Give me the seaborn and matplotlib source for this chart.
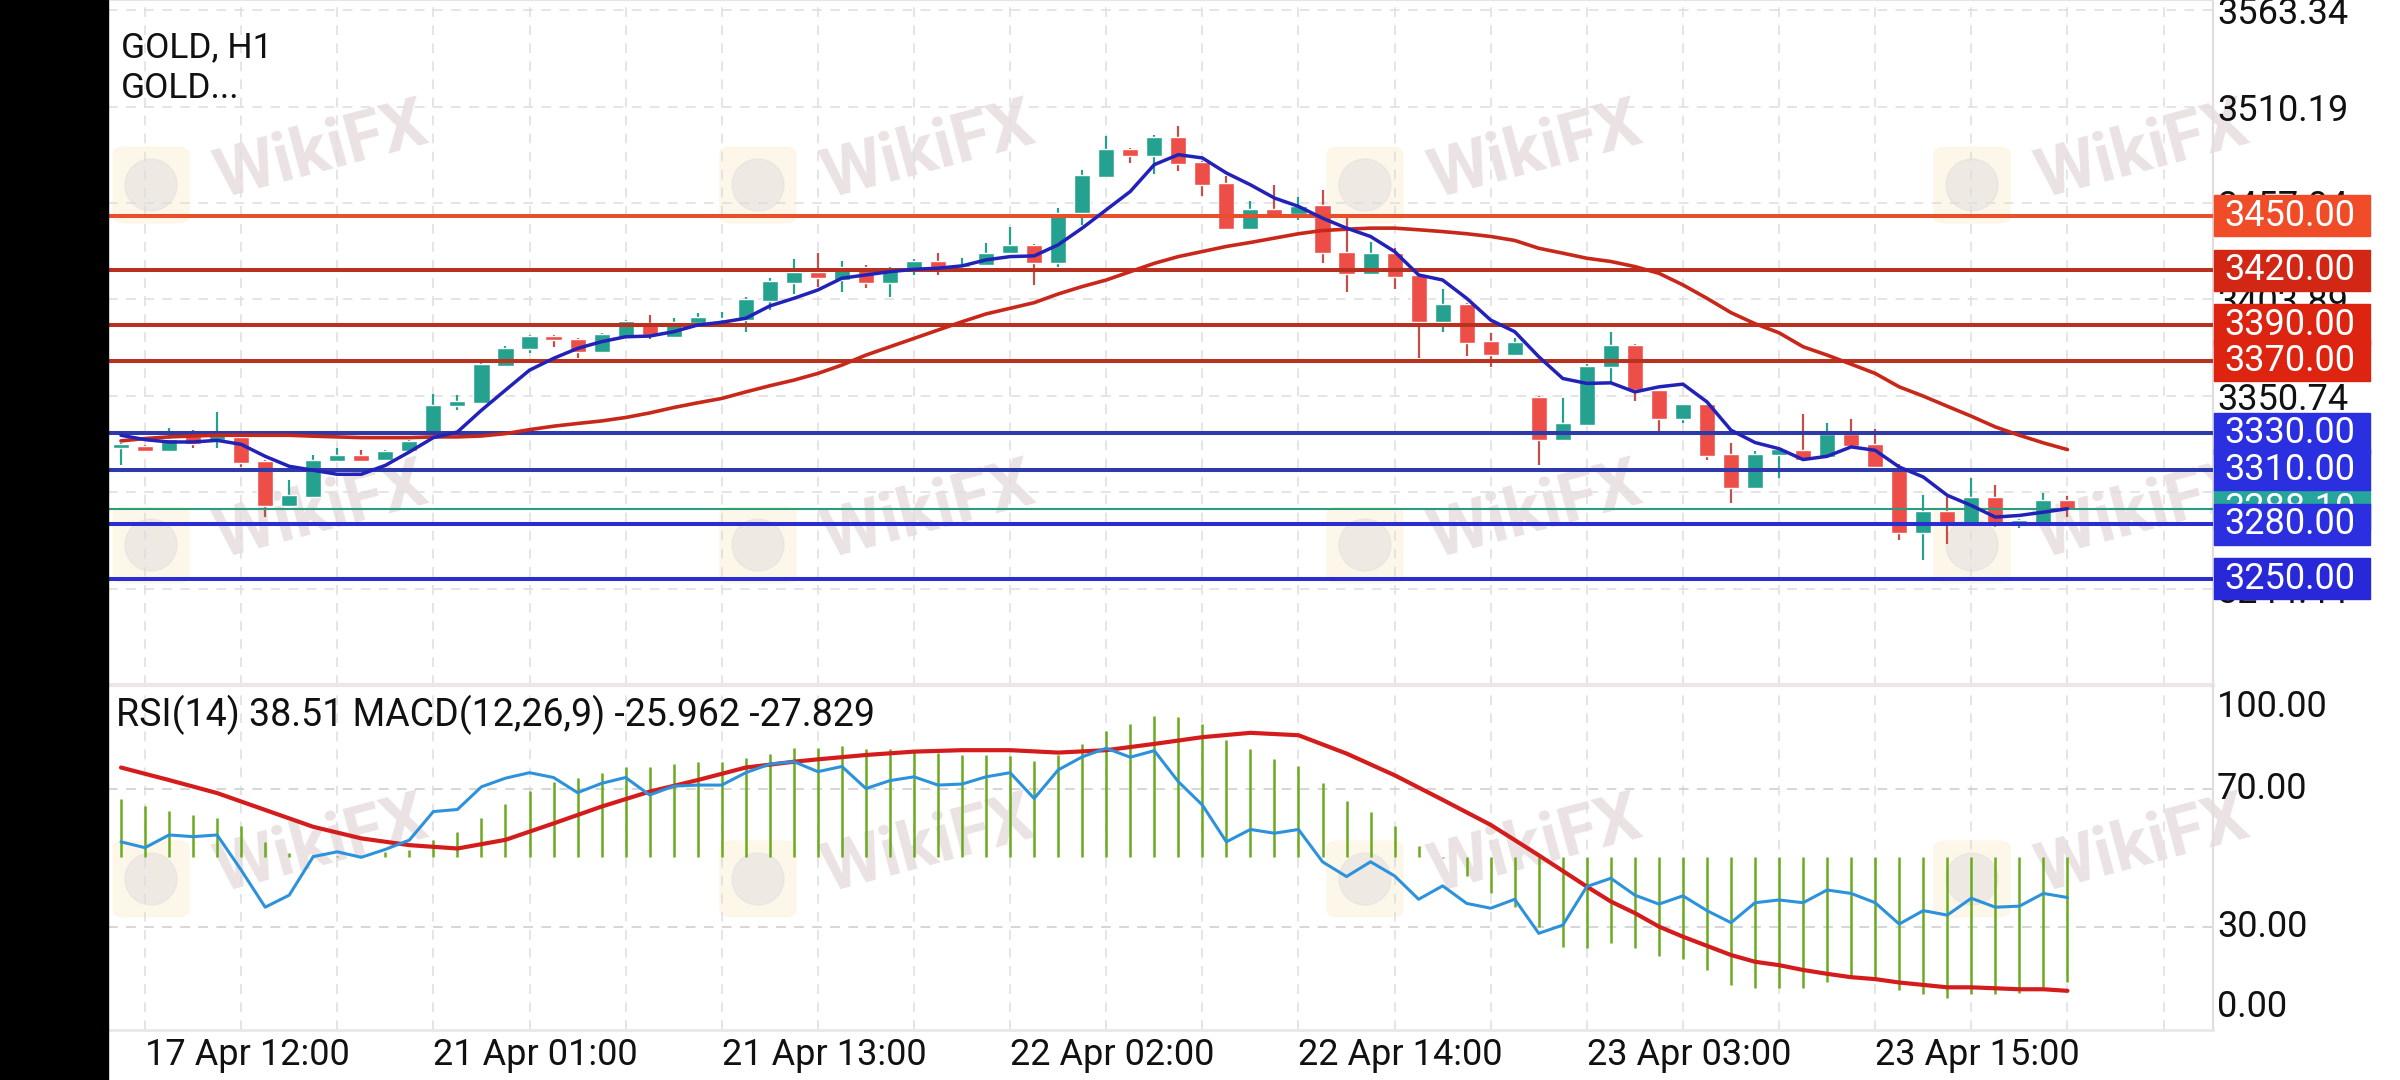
import numpy as np
import pandas as pd
import matplotlib
matplotlib.use("Agg")
import matplotlib.pyplot as plt
import matplotlib.transforms as mtransforms
from matplotlib.patches import Rectangle, FancyBboxPatch, Ellipse
import seaborn as sns

sns.set_style("white")
plt.rcParams["font.family"] = ["Roboto", "DejaVu Sans"]
plt.rcParams["lines.scale_dashes"] = False

# ------------------------------
# data (H1 bars, 17 Apr 11:00 -> 23 Apr 23:00)
# ------------------------------
opens = [3322.2, 3323.3, 3320.3, 3328.5, 3326.2, 3328.1, 3314.8, 3289.8, 3294.9, 3314.8,
         3318.3, 3315.2, 3320.3, 3330.8, 3345.0, 3346.9, 3367.1, 3376.3, 3383.9, 3381.9,
         3375.0, 3383.3, 3391.1, 3383.3, 3390.7, 3393.1, 3392.5, 3403.2, 3413.2, 3419.2,
         3414.6, 3422.0, 3413.2, 3420.2, 3425.3, 3421.6, 3422.9, 3429.7, 3434.0, 3423.8,
         3451.5, 3471.4, 3486.8, 3483.1, 3493.5, 3479.5, 3468.0, 3442.6, 3453.7, 3451.1,
         3456.1, 3430.3, 3418.0, 3429.4, 3417.4, 3391.6, 3401.4, 3381.1, 3373.2, 3350.2,
         3326.6, 3334.9, 3366.4, 3378.7, 3353.9, 3337.7, 3346.1, 3318.5, 3300.1, 3317.9,
         3321.1, 3317.0, 3329.6, 3324.0, 3309.7, 3275.0, 3287.2, 3280.6, 3294.9, 3280.2,
         3280.2, 3293.5]
highs = [3324.5, 3323.8, 3333.2, 3332.1, 3341.9, 3328.6, 3315.2, 3304.1, 3318.0, 3322.2,
         3320.7, 3321.1, 3326.6, 3352.0, 3351.1, 3368.6, 3378.2, 3384.3, 3384.3, 3382.4,
         3385.2, 3392.5, 3395.3, 3393.5, 3396.6, 3397.1, 3405.4, 3415.6, 3426.1, 3429.4,
         3425.3, 3422.9, 3421.6, 3426.1, 3429.7, 3426.6, 3434.9, 3444.1, 3434.5, 3454.2,
         3475.4, 3494.2, 3487.4, 3494.8, 3499.4, 3480.0, 3471.7, 3457.9, 3467.1, 3460.3,
         3464.4, 3448.7, 3435.8, 3432.1, 3418.0, 3409.5, 3401.7, 3385.2, 3382.4, 3350.6,
         3349.3, 3368.2, 3386.1, 3379.3, 3354.2, 3346.5, 3346.5, 3324.8, 3320.3, 3322.6,
         3340.6, 3335.8, 3338.2, 3332.7, 3313.4, 3295.9, 3294.9, 3305.6, 3301.4, 3283.0,
         3297.1, 3295.3]
lows = [3312.4, 3319.8, 3319.9, 3322.2, 3322.2, 3311.5, 3283.9, 3289.3, 3294.4, 3314.3,
        3314.3, 3314.8, 3319.8, 3330.3, 3343.2, 3346.5, 3366.8, 3374.1, 3377.8, 3371.4,
        3374.6, 3382.4, 3381.9, 3382.9, 3390.3, 3390.7, 3386.1, 3398.1, 3406.9, 3411.0,
        3407.8, 3410.0, 3405.4, 3417.4, 3417.4, 3421.1, 3422.5, 3429.4, 3411.9, 3422.0,
        3445.0, 3471.0, 3479.1, 3473.2, 3474.5, 3460.7, 3442.2, 3442.2, 3449.3, 3447.8,
        3423.8, 3408.2, 3417.4, 3409.5, 3371.4, 3386.1, 3372.7, 3366.4, 3372.8, 3312.4,
        3326.2, 3334.5, 3357.6, 3348.0, 3329.0, 3335.5, 3315.6, 3291.6, 3299.7, 3305.6,
        3315.2, 3316.6, 3322.5, 3311.1, 3271.4, 3260.3, 3268.8, 3280.2, 3278.4, 3278.0,
        3279.8, 3283.9]
closes = [3324.0, 3320.3, 3327.2, 3324.4, 3329.0, 3313.7, 3289.8, 3295.9, 3315.6, 3318.3,
          3314.8, 3320.3, 3325.9, 3345.6, 3347.8, 3368.2, 3376.9, 3383.9, 3381.5, 3375.0,
          3384.6, 3392.0, 3384.3, 3391.6, 3394.0, 3393.8, 3404.0, 3414.3, 3419.2, 3415.6,
          3422.0, 3413.2, 3421.1, 3425.3, 3421.1, 3422.9, 3429.7, 3434.0, 3423.8, 3451.8,
          3472.7, 3486.8, 3483.1, 3493.5, 3478.7, 3467.1, 3442.6, 3453.7, 3450.0, 3455.5,
          3429.7, 3418.0, 3429.7, 3416.5, 3391.6, 3401.4, 3380.0, 3373.2, 3380.6, 3326.2,
          3335.8, 3367.1, 3378.7, 3354.2, 3337.7, 3346.1, 3317.4, 3300.1, 3318.5, 3321.6,
          3315.6, 3329.6, 3322.9, 3311.5, 3275.0, 3287.2, 3280.6, 3294.9, 3279.3, 3282.4,
          3293.5, 3288.1]

ma_fast = [3329.0, 3326.6, 3325.3, 3325.3, 3326.2, 3324.0, 3317.4, 3311.9, 3309.7, 3307.5,
           3307.5, 3312.4, 3319.8, 3327.7, 3330.8, 3342.8, 3353.9, 3364.9, 3371.4, 3376.9,
           3380.6, 3383.3, 3383.7, 3386.1, 3389.8, 3391.3, 3393.5, 3400.3, 3404.5, 3409.1,
           3415.6, 3417.4, 3419.2, 3420.5, 3421.1, 3422.4, 3425.7, 3427.5, 3427.9, 3434.0,
           3443.2, 3453.3, 3463.4, 3478.2, 3483.7, 3481.9, 3473.6, 3467.1, 3459.8, 3455.2,
           3448.7, 3443.2, 3438.6, 3430.3, 3417.4, 3414.6, 3404.5, 3392.5, 3386.1, 3372.3,
           3360.3, 3357.6, 3357.9, 3352.9, 3355.7, 3357.2, 3347.4, 3331.8, 3325.0, 3321.6,
           3315.6, 3317.4, 3322.6, 3320.7, 3311.5, 3306.0, 3295.9, 3290.3, 3283.9, 3284.8,
           3286.6, 3288.5]
ma_slow = [3325.9, 3327.2, 3328.1, 3328.6, 3329.0, 3329.0, 3329.0, 3329.0, 3328.5, 3328.1,
           3327.7, 3327.7, 3327.7, 3328.1, 3328.1, 3328.6, 3329.9, 3332.1, 3334.0, 3335.5,
           3336.9, 3338.8, 3341.3, 3344.3, 3346.9, 3349.3, 3352.9, 3356.3, 3359.4, 3363.1,
           3367.7, 3373.2, 3377.8, 3382.4, 3387.0, 3391.6, 3395.9, 3399.0, 3402.1, 3406.9,
           3411.0, 3414.6, 3419.2, 3423.8, 3427.5, 3430.3, 3433.1, 3435.3, 3437.7, 3440.1,
           3441.9, 3442.6, 3443.2, 3443.2, 3442.3, 3441.3, 3440.1, 3438.6, 3436.4, 3432.1,
           3429.4, 3426.6, 3424.8, 3422.0, 3418.3, 3411.9, 3404.5, 3396.6, 3390.5, 3385.5,
           3377.8, 3373.2, 3368.2, 3363.1, 3355.7, 3350.6, 3345.0, 3339.5, 3333.6, 3329.0,
           3324.8, 3321.1]

rsi = [54.7, 53.0, 56.7, 56.2, 56.7, 46.5, 35.7, 39.2, 50.4, 51.8,
       50.2, 52.5, 55.2, 63.5, 64.1, 70.7, 73.2, 74.8, 73.4, 69.0,
       71.7, 73.4, 68.3, 70.9, 71.2, 71.2, 74.8, 77.3, 78.0, 75.1,
       76.6, 70.2, 72.5, 73.6, 71.2, 71.5, 73.6, 74.8, 67.3, 75.6,
       79.4, 81.9, 79.3, 81.2, 72.2, 65.4, 54.7, 58.3, 57.2, 58.3,
       48.9, 44.6, 48.9, 44.8, 38.0, 41.9, 36.8, 35.4, 38.0, 28.1,
       30.5, 41.7, 44.1, 39.2, 36.6, 39.0, 34.7, 31.2, 37.0, 37.8,
       37.0, 40.7, 39.7, 37.0, 30.8, 34.7, 33.4, 38.3, 35.7, 36.0,
       39.7, 38.51]
macd = [11.9, 10.5, 9.5, 8.7, 8.1, 6.4, 3.1, 0.8, 0.3, 0.2,
        0.4, 1.0, 1.4, 3.5, 5.2, 8.1, 10.9, 13.7, 15.6, 16.3,
        17.3, 18.7, 18.7, 19.2, 19.7, 19.7, 20.4, 21.3, 22.5, 22.5,
        23.0, 22.3, 22.3, 22.1, 21.6, 21.1, 21.1, 20.9, 19.9, 21.1,
        23.4, 26.1, 27.5, 29.2, 28.9, 27.5, 24.2, 22.3, 20.2, 18.8,
        15.2, 11.6, 9.2, 6.4, 2.2, -0.3, -4.1, -7.5, -10.4, -14.5,
        -18.8, -19.0, -18.0, -19.0, -20.7, -21.3, -23.6, -26.6, -27.3, -27.3,
        -27.3, -25.9, -25.2, -25.2, -27.7, -28.5, -29.4, -28.5, -28.5, -28.3,
        -27.0, -25.962]
sig_idx = [0, 2, 4, 6, 8, 10, 12, 14, 16, 18, 20, 22, 24, 26, 28, 29, 31, 33, 35, 37,
           39, 41, 43, 45, 47, 49, 51, 53, 55, 57, 59, 61, 62, 63, 64, 65, 66, 67, 68, 69,
           70, 71, 72, 73, 74, 75, 76, 77, 78, 79, 80, 81]
sig_val = [18.5, 15.9, 13.2, 9.7, 6.2, 3.8, 2.4, 1.7, 3.5, 6.9, 10.4, 13.5, 15.9, 18.5,
           19.7, 20.2, 21.1, 21.8, 22.1, 22.1, 21.6, 22.1, 23.4, 24.8, 25.7, 25.2, 21.4,
           16.9, 11.8, 6.6, 0.3, -6.2, -9.3, -11.7, -14.5, -16.6, -18.5, -20.4, -21.8,
           -22.5, -23.5, -24.3, -25.0, -25.4, -26.1, -26.6, -27.1, -27.1, -27.3, -27.5,
           -27.5, -27.829]

levels = [3450, 3420, 3390, 3370, 3330, 3310, 3280, 3250]
level_colors = ["#e8502c", "#b8301f", "#b8321f", "#b8321f", "#2e3aa8", "#2e3aa8", "#2a2ed0", "#2a2ed0"]
box_colors = ["#f04c28", "#d32715", "#dc2410", "#dc2410", "#2a2fe0", "#2a2fe0", "#2b2fe0", "#2828d8"]
price_ticks = [3563.34, 3510.19, 3457.04, 3403.89, 3350.74, 3297.59, 3244.44]
time_idx = [1, 13, 25, 37, 49, 61, 73]
time_labels = ["17 Apr 12:00", "21 Apr 01:00", "21 Apr 13:00", "22 Apr 02:00",
               "22 Apr 14:00", "23 Apr 03:00", "23 Apr 15:00"]
rsi_levels = [70, 30]

# ------------------------------
# layout (pixels of the 2400x1080 screenshot)
# ------------------------------
W, H = 2400, 1080
LEFT, RIGHT = 108, 2213
X0, DX = 121, 24.03          # pixel of first bar, pixels per bar
Y_REF, P_REF, PXU = 215.8, 3450, 1.8138   # price scale
MAIN_BOT, IND_TOP, IND_BOT = 685, 686, 1030
MACD_ZERO, MACD_PXU = 856.7, 4.82

TEAL = "#25a28f"
RED = "#ee4e48"
RED_WICK = "#c0504a"
GRID = "#dedede"
DASH = (0, (7, 6))

fig = plt.figure(figsize=(24, 10.8), dpi=100, facecolor="white")
ax = fig.add_axes([LEFT / W, 1 - MAIN_BOT / H, (RIGHT - LEFT) / W, MAIN_BOT / H])
ax2 = fig.add_axes([LEFT / W, 1 - IND_BOT / H, (RIGHT - LEFT) / W, (IND_BOT - IND_TOP) / H])
ax3 = ax2.twinx()
for a in (ax, ax2, ax3):
    a.set_facecolor("none")

xlim = ((LEFT - X0) / DX, (RIGHT - X0) / DX)
ax.set_xlim(xlim)
ax2.set_xlim(xlim)
ax.set_ylim(P_REF - (MAIN_BOT - Y_REF) / PXU, P_REF + Y_REF / PXU)
ax2.set_ylim((MACD_ZERO - IND_BOT) / MACD_PXU, (MACD_ZERO - IND_TOP) / MACD_PXU)
ax3.set_ylim(0, 100)

# black strip on the left of the phone screenshot
fig.patches.append(Rectangle((0, 0), LEFT / W, 1, transform=fig.transFigure,
                             color="black", zorder=1))

# watermarks
wm_x = [322, 929, 1536, 2143]
wm_y = [152, 512, 846]
for cx in wm_x:
    for cy in wm_y:
        fig.text(cx / W, 1 - cy / H, "WikiFX", fontsize=50, fontweight="bold",
                 color="#ebe3e3", rotation=15, ha="center", va="center", zorder=-1)
        lx, ly = cx - 171, cy + 33
        fig.patches.append(FancyBboxPatch(((lx - 38) / W, 1 - (ly + 38) / H), 76 / W, 76 / H,
                                          boxstyle="round,pad=0,rounding_size=0.006",
                                          transform=fig.transFigure, color="#fdf5e2",
                                          alpha=0.7, zorder=-1))
        fig.patches.append(Ellipse((lx / W, 1 - ly / H), 52 / W, 52 / H,
                                   transform=fig.transFigure, color="#e2dddd",
                                   alpha=0.5, zorder=-1))

# grid
grid_idx = np.arange(1, 88, 4)
for g in grid_idx:
    ax.axvline(g, color=GRID, lw=1.1, ls=DASH, zorder=0)
    ax2.axvline(g, color=GRID, lw=1.1, ls=DASH, zorder=0)
for t in price_ticks:
    ax.axhline(t, color=GRID, lw=1.1, ls=DASH, zorder=0)
rsi_trans = mtransforms.blended_transform_factory(ax2.transAxes, ax3.transData)
for lv in rsi_levels:
    ax2.plot([0, 1], [lv, lv], transform=rsi_trans, color="#cfcfcf", lw=1.2, ls=DASH, zorder=0)

# candles
bars = pd.DataFrame({"o": opens, "h": highs, "l": lows, "c": closes})
bars["i"] = np.arange(len(bars))
up = bars["c"] >= bars["o"]
body_lo = np.minimum(bars["o"], bars["c"])
body_h = np.maximum((bars["c"] - bars["o"]).abs(), 0.8)
ax.vlines(bars["i"][up], bars["l"][up], bars["h"][up], color=TEAL, lw=1.6, zorder=3)
ax.vlines(bars["i"][~up], bars["l"][~up], bars["h"][~up], color=RED_WICK, lw=1.6, zorder=3)
ax.bar(bars["i"], body_h, bottom=body_lo, width=0.67,
       color=np.where(up, TEAL, RED), zorder=3.1)

# horizontal levels + current price
last = closes[-1]
ax.axhline(last, color="#2a9d80", lw=1.5, zorder=3.5)
for p, col in zip(levels, level_colors):
    ax.axhline(p, color=col, lw=2.9, zorder=4)

# moving averages
sns.lineplot(x=bars["i"], y=ma_slow, ax=ax, color="#c8281a", lw=2.6, zorder=5)
sns.lineplot(x=bars["i"], y=ma_fast, ax=ax, color="#2222b8", lw=2.5, zorder=5.1)

# price axis
ax.yaxis.tick_right()
ax.set_yticks(price_ticks)
ax.set_yticklabels([f"{t:.2f}" for t in price_ticks])
ax.tick_params(axis="y", length=0, pad=3, labelsize=26, labelcolor="#111111")
ax.set_xticks([])
ax.set_xlabel("")
ax.set_ylabel("")

ptrans = mtransforms.blended_transform_factory(ax.transAxes, ax.transData)
axw = RIGHT - LEFT
box_x = (2214 - LEFT) / axw
box_w = 156 / axw
box_h = 41 / PXU
txt_x = (2224 - LEFT) / axw
ax.add_patch(Rectangle((box_x, last - box_h / 2), box_w, box_h, transform=ptrans,
                       color="#26a69a", clip_on=False, zorder=9))
ax.text(txt_x, last, f"{last:.2f}", transform=ptrans, color="white", fontsize=26,
        va="center", ha="left", zorder=9.5, clip_on=False)
for p, col in zip(levels, box_colors):
    ax.add_patch(Rectangle((box_x, p - box_h / 2), box_w, box_h, transform=ptrans,
                           color=col, clip_on=False, zorder=10))
    ax.text(txt_x, p, f"{p:.2f}", transform=ptrans, color="white", fontsize=26,
            va="center", ha="left", zorder=11, clip_on=False)

# spines
for s in ax.spines.values():
    s.set_visible(False)
ax.spines["top"].set_visible(True)
ax.spines["top"].set_color("#e4e4e4")
ax.spines["top"].set_linewidth(1.5)
ax.spines["right"].set_visible(True)
ax.spines["right"].set_color("#e2dcdc")
ax.spines["right"].set_linewidth(1.5)
ax.spines["bottom"].set_visible(True)
ax.spines["bottom"].set_color("#ece6e6")
ax.spines["bottom"].set_linewidth(3)

# indicator panel: MACD histogram + signal, RSI on top
ax2.vlines(bars["i"], 0, macd, color="#6aab1e", lw=1.8, zorder=2)
sns.lineplot(x=sig_idx, y=sig_val, ax=ax2, color="#d41c1c", lw=3.0, zorder=3)
sns.lineplot(x=bars["i"], y=rsi, ax=ax3, color="#2d92dc", lw=2.2, zorder=4)

for a in (ax2, ax3):
    for s in a.spines.values():
        s.set_visible(False)
    a.set_ylabel("")
    a.set_yticks([])
ax2.spines["right"].set_visible(True)
ax2.spines["right"].set_color("#e2dcdc")
ax2.spines["right"].set_linewidth(1.5)
ax2.spines["bottom"].set_visible(True)
ax2.spines["bottom"].set_color("#ece6e6")
ax2.spines["bottom"].set_linewidth(2)

ax2.set_xticks(time_idx)
ax2.set_xticklabels(time_labels)
ax2.tick_params(axis="x", length=0, pad=5, labelsize=26, labelcolor="#111111")
for lab in ax2.get_xticklabels():
    lab.set_ha("left")
ax2.set_xlabel("")

# rsi scale labels (top/bottom ones sit inside the panel like the terminal does)
rsi_lab_vals = [100, 70, 30, 0]
rsi_lab_pos = [94.0, 70, 30, 6.7]
for v, pos in zip(rsi_lab_vals, rsi_lab_pos):
    ax3.text(1 + 4 / axw, pos, f"{v:.2f}", transform=rsi_trans, fontsize=26,
             va="center", ha="left", color="#111111", clip_on=False)

# titles
fig.text(121 / W, 1 - 48 / H, "GOLD, H1", fontsize=25.5, va="center", color="#111111")
fig.text(121 / W, 1 - 88 / H, "GOLD...", fontsize=25.5, va="center", color="#111111")
fig.text(116 / W, 1 - 715 / H,
         f"RSI(14) {rsi[-1]:.2f} MACD(12,26,9) {macd[-1]:.3f} {sig_val[-1]:.3f}",
         fontsize=27, va="center", color="#111111")

fig.savefig("out.png", dpi=100, facecolor="white")
